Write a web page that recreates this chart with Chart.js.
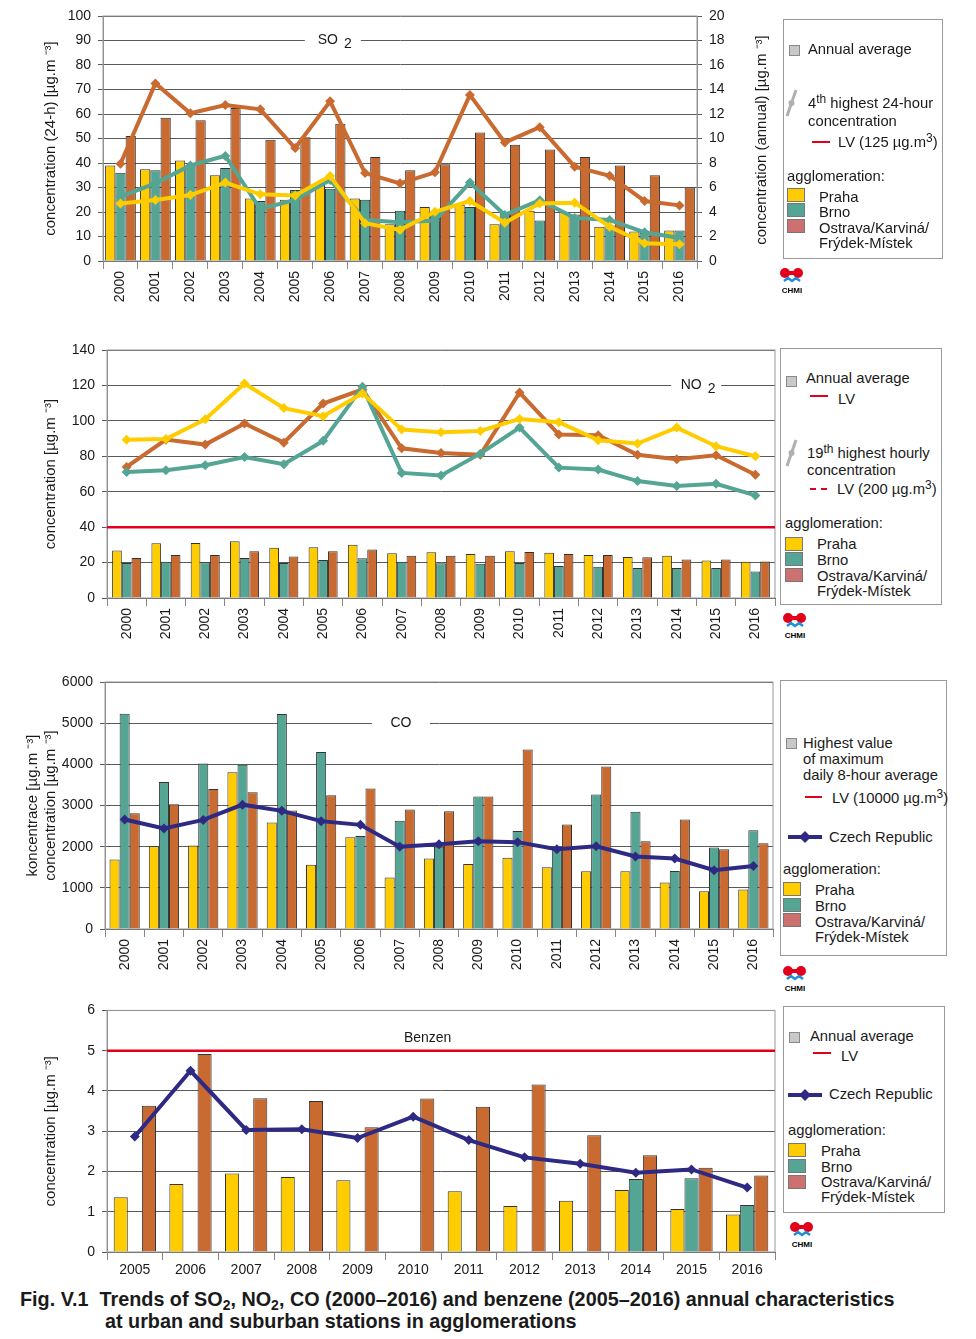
<!DOCTYPE html>
<html>
<head>
<meta charset="utf-8">
<script src="https://cdn.jsdelivr.net/npm/chart.js@4/dist/chart.umd.min.js"></script>
<style>
  body { margin: 0; background: #fff; width: 976px; height: 1339px; position: relative; overflow: hidden;
         font-family: 'Liberation Sans', Arial, sans-serif; color: #1a1a1a; }
  .cv { position: absolute; left: 0; }
  .t { position: absolute; font-size: 14.8px; line-height: 16px; white-space: nowrap; }
  .t sup { font-size: 12px; vertical-align: 5px; line-height: 0; }
  .box { position: absolute; border: 1px solid #999; }
  .sq { position: absolute; width: 9px; height: 9px; background: #c8c8c8; border: 1px solid #8a8a8a; }
  .ag { position: absolute; width: 16px; height: 12px; border: 1px solid #777; }
  .red { position: absolute; height: 2px; background: #e3001b; }
  .dash { position: absolute; height: 0; border-top: 2px dashed #e3001b; }
  .rot { position: absolute; font-size: 15px; white-space: nowrap; transform: translate(-50%, -50%) rotate(-90deg); }
  .logo { position: absolute; width: 26px; height: 28px; }
  .cap { position: absolute; font-size: 19.8px; font-weight: bold; white-space: nowrap; line-height: 22px; }
  .cap sub { font-size: 14px; vertical-align: -4px; line-height: 0; }
</style>
</head>
<body>

<canvas id="so2" class="cv" style="top:0px" width="770" height="320"></canvas>
<canvas id="no2" class="cv" style="top:330px" width="780" height="330"></canvas>
<canvas id="co" class="cv" style="top:665px" width="780" height="330"></canvas>
<canvas id="bz" class="cv" style="top:995px" width="780" height="290"></canvas>

<div class="rot" style="left:760px; top:140px">concentration (annual) [µg.m ⁻³]</div>

<!-- legend SO2 -->
<div class="box" style="left:783px; top:19px; width:158px; height:238px"></div>
<div class="sq" style="left:789px; top:45px"></div>
<div class="t" style="left:808px; top:41px">Annual average</div>
<svg style="position:absolute; left:784px; top:88px" width="16" height="30"><line x1="12" y1="2" x2="3" y2="28" stroke="#b0b0b0" stroke-width="3"/><circle cx="7.5" cy="15" r="3" fill="#b0b0b0"/></svg>
<div class="t" style="left:808px; top:95px">4<sup>th</sup> highest 24-hour</div>
<div class="t" style="left:808px; top:113px">concentration</div>
<div class="red" style="left:812px; top:141px; width:18px"></div>
<div class="t" style="left:838px; top:134px">LV (125 µg.m<sup>3</sup>)</div>
<div class="t" style="left:787px; top:168px">agglomeration:</div>
<div class="ag" style="left:787px; top:188px; background:#ffcc00"></div>
<div class="ag" style="left:787px; top:203px; background:#55a595"></div>
<div class="ag" style="left:787px; top:219px; background:#cc7070"></div>
<div class="t" style="left:819px; top:189px">Praha</div>
<div class="t" style="left:819px; top:204px">Brno</div>
<div class="t" style="left:819px; top:220px">Ostrava/Karviná/</div>
<div class="t" style="left:819px; top:235px">Frýdek-Místek</div>

<!-- legend NO2 -->
<div class="box" style="left:780px; top:348px; width:160px; height:255px"></div>
<div class="sq" style="left:786px; top:376px"></div>
<div class="t" style="left:806px; top:370px">Annual average</div>
<div class="red" style="left:810px; top:395px; width:18px"></div>
<div class="t" style="left:838px; top:391px">LV</div>
<svg style="position:absolute; left:784px; top:438px" width="16" height="30"><line x1="12" y1="2" x2="3" y2="28" stroke="#b0b0b0" stroke-width="3"/><circle cx="7.5" cy="15" r="3" fill="#b0b0b0"/></svg>
<div class="t" style="left:807px; top:445px">19<sup>th</sup> highest hourly</div>
<div class="t" style="left:807px; top:462px">concentration</div>
<div class="dash" style="left:810px; top:488px; width:17px"></div>
<div class="t" style="left:837px; top:481px">LV (200 µg.m<sup>3</sup>)</div>
<div class="t" style="left:785px; top:515px">agglomeration:</div>
<div class="ag" style="left:785px; top:537px; background:#ffcc00"></div>
<div class="ag" style="left:785px; top:552px; background:#55a595"></div>
<div class="ag" style="left:785px; top:568px; background:#cc7070"></div>
<div class="t" style="left:817px; top:536px">Praha</div>
<div class="t" style="left:817px; top:552px">Brno</div>
<div class="t" style="left:817px; top:568px">Ostrava/Karviná/</div>
<div class="t" style="left:817px; top:583px">Frýdek-Místek</div>

<!-- legend CO -->
<div class="box" style="left:780px; top:680px; width:165px; height:274px"></div>
<div class="sq" style="left:786px; top:738px"></div>
<div class="t" style="left:803px; top:735px">Highest value</div>
<div class="t" style="left:803px; top:751px">of maximum</div>
<div class="t" style="left:803px; top:767px">daily 8-hour average</div>
<div class="red" style="left:805px; top:796px; width:17px"></div>
<div class="t" style="left:832px; top:790px">LV (10000 µg.m<sup>3</sup>)</div>
<svg style="position:absolute; left:788px; top:830px" width="36" height="14"><line x1="0" y1="7" x2="34" y2="7" stroke="#2e2a84" stroke-width="4"/><polygon points="17,1 23,7 17,13 11,7" fill="#2e2a84"/></svg>
<div class="t" style="left:829px; top:829px">Czech Republic</div>
<div class="t" style="left:783px; top:861px">agglomeration:</div>
<div class="ag" style="left:783px; top:882px; background:#ffcc00"></div>
<div class="ag" style="left:783px; top:898px; background:#55a595"></div>
<div class="ag" style="left:783px; top:913px; background:#cc7070"></div>
<div class="t" style="left:815px; top:882px">Praha</div>
<div class="t" style="left:815px; top:898px">Brno</div>
<div class="t" style="left:815px; top:914px">Ostrava/Karviná/</div>
<div class="t" style="left:815px; top:929px">Frýdek-Místek</div>

<!-- legend benzene -->
<div class="box" style="left:783px; top:1006px; width:160px; height:205px"></div>
<div class="sq" style="left:789px; top:1032px"></div>
<div class="t" style="left:810px; top:1028px">Annual average</div>
<div class="red" style="left:813px; top:1052px; width:18px"></div>
<div class="t" style="left:841px; top:1048px">LV</div>
<svg style="position:absolute; left:788px; top:1088px" width="36" height="14"><line x1="0" y1="7" x2="34" y2="7" stroke="#2e2a84" stroke-width="4"/><polygon points="17,1 23,7 17,13 11,7" fill="#2e2a84"/></svg>
<div class="t" style="left:829px; top:1086px">Czech Republic</div>
<div class="t" style="left:788px; top:1122px">agglomeration:</div>
<div class="ag" style="left:788px; top:1143px; background:#ffcc00"></div>
<div class="ag" style="left:788px; top:1159px; background:#55a595"></div>
<div class="ag" style="left:788px; top:1175px; background:#cc7070"></div>
<div class="t" style="left:821px; top:1143px">Praha</div>
<div class="t" style="left:821px; top:1159px">Brno</div>
<div class="t" style="left:821px; top:1174px">Ostrava/Karviná/</div>
<div class="t" style="left:821px; top:1189px">Frýdek-Místek</div>

<!-- CHMI logos -->
<svg class="logo" style="left:779px; top:267px" viewBox="0 0 26 28"><circle cx="6" cy="6" r="5" fill="#e3001b"/><circle cx="19" cy="6" r="5" fill="#e3001b"/><rect x="10" y="4" width="5" height="4" fill="#e3001b"/><path d="M5 14 L9 11 L13 14 L17 11 L21 14" stroke="#1e8fd6" stroke-width="2.5" fill="none"/><text x="13" y="26" font-size="8" font-weight="bold" text-anchor="middle" font-family="Liberation Sans, Arial">CHMI</text></svg>
<svg class="logo" style="left:782px; top:612px" viewBox="0 0 26 28"><circle cx="6" cy="6" r="5" fill="#e3001b"/><circle cx="19" cy="6" r="5" fill="#e3001b"/><rect x="10" y="4" width="5" height="4" fill="#e3001b"/><path d="M5 14 L9 11 L13 14 L17 11 L21 14" stroke="#1e8fd6" stroke-width="2.5" fill="none"/><text x="13" y="26" font-size="8" font-weight="bold" text-anchor="middle" font-family="Liberation Sans, Arial">CHMI</text></svg>
<svg class="logo" style="left:782px; top:965px" viewBox="0 0 26 28"><circle cx="6" cy="6" r="5" fill="#e3001b"/><circle cx="19" cy="6" r="5" fill="#e3001b"/><rect x="10" y="4" width="5" height="4" fill="#e3001b"/><path d="M5 14 L9 11 L13 14 L17 11 L21 14" stroke="#1e8fd6" stroke-width="2.5" fill="none"/><text x="13" y="26" font-size="8" font-weight="bold" text-anchor="middle" font-family="Liberation Sans, Arial">CHMI</text></svg>
<svg class="logo" style="left:789px; top:1221px" viewBox="0 0 26 28"><circle cx="6" cy="6" r="5" fill="#e3001b"/><circle cx="19" cy="6" r="5" fill="#e3001b"/><rect x="10" y="4" width="5" height="4" fill="#e3001b"/><path d="M5 14 L9 11 L13 14 L17 11 L21 14" stroke="#1e8fd6" stroke-width="2.5" fill="none"/><text x="13" y="26" font-size="8" font-weight="bold" text-anchor="middle" font-family="Liberation Sans, Arial">CHMI</text></svg>

<div class="cap" style="left:20px; top:1288px">Fig. V.1&nbsp; Trends of SO<sub>2</sub>, NO<sub>2</sub>, CO (2000–2016) and benzene (2005–2016) annual characteristics</div>
<div class="cap" style="left:105px; top:1310px">at urban and suburban stations in agglomerations</div>

<script>
// years
const years = ['2000', '2001', '2002', '2003', '2004', '2005', '2006', '2007', '2008',
               '2009', '2010', '2011', '2012', '2013', '2014', '2015', '2016'];
const benzYears = ['2005', '2006', '2007', '2008', '2009', '2010', '2011', '2012',
                   '2013', '2014', '2015', '2016'];

// SO2 - annual average (right axis) and 4th highest 24-h conc. (left axis)
const so2AvgPraha   = [7.8, 7.5, 8.2, 7.0, 5.1, 5.0, 6.4, 5.1, 3.0, 4.4, 4.6, 3.0, 4.1, 4.0, 2.8, 2.4, 2.5];
const so2AvgBrno    = [7.2, 7.4, 7.8, 7.6, 4.9, 5.8, 5.9, 5.0, 4.1, 4.0, 4.4, 4.0, 3.3, 3.8, 2.9, 2.3, 2.5];
const so2AvgOstrava = [10.2, 11.7, 11.5, 12.5, 9.9, 10.1, 11.2, 8.5, 7.4, 7.9, 10.5, 9.5, 9.1, 8.5, 7.8, 7.0, 6.0];
const so2MaxPraha   = [23.5, 24.9, 26.9, 32.0, 27.2, 26.7, 34.7, 15.4, 12.7, 20.1, 24.5, 15.6, 23.5, 23.8, 14.0, 7.2, 6.8];
const so2MaxBrno    = [26.3, 31.7, 39.0, 42.9, 21.2, 24.9, 33.1, 16.7, 15.8, 16.5, 32.0, 18.8, 24.8, 17.6, 16.7, 11.7, 9.4];
const so2MaxOstrava = [39.7, 72.5, 60.3, 63.7, 61.9, 46.1, 65.2, 35.9, 31.7, 36.2, 67.8, 48.4, 54.6, 38.5, 34.8, 24.5, 22.7];

// NO2 - annual average and 19th highest hourly conc.
const no2AvgPraha   = [26.8, 30.9, 31.1, 32.1, 28.3, 28.7, 30.0, 25.3, 25.8, 24.9, 26.4, 25.5, 24.3, 23.2, 23.8, 21.1, 20.4];
const no2AvgBrno    = [19.8, 20.4, 20.2, 22.6, 19.8, 21.5, 22.5, 20.4, 19.6, 19.4, 19.8, 18.1, 17.7, 17.0, 17.0, 17.0, 14.9];
const no2AvgOstrava = [22.6, 24.3, 24.3, 26.4, 23.4, 26.4, 27.4, 23.8, 23.8, 23.8, 26.0, 24.9, 24.3, 23.0, 21.7, 21.7, 20.6];
const no2MaxPraha   = [89.4, 89.8, 100.9, 121.1, 107.2, 102.6, 115.5, 95.1, 93.6, 94.3, 101.1, 99.2, 89.1, 87.2, 96.2, 85.7, 80.0];
const no2MaxBrno    = [71.1, 72.1, 74.9, 79.6, 75.5, 88.7, 119.2, 70.6, 69.2, 81.5, 96.2, 73.6, 72.5, 66.0, 63.2, 64.5, 57.9];
const no2MaxOstrava = [74.0, 89.4, 86.6, 98.5, 87.7, 109.8, 117.7, 84.5, 81.9, 80.8, 116.0, 92.3, 91.9, 80.9, 78.3, 80.6, 69.6];
const no2LV = 40;

// CO - highest max. daily 8-h average
const coPraha   = [1690, 2010, 2030, 3810, 2590, 1560, 2230, 1250, 1710, 1580, 1730, 1500, 1400, 1400, 1130, 920, 960];
const coBrno    = [5230, 3570, 4020, 3990, 5220, 4300, 2260, 2630, 2000, 3220, 2380, 1950, 3270, 2850, 1410, 1980, 2400];
const coOstrava = [2810, 3030, 3400, 3320, 2880, 3250, 3410, 2900, 2860, 3220, 4360, 2540, 3950, 2130, 2660, 1940, 2080];
const coCR      = [2660, 2440, 2650, 3020, 2870, 2620, 2530, 2000, 2060, 2130, 2110, 1940, 2010, 1760, 1710, 1430, 1530];

// benzene - annual average
const bzPraha   = [1.36, 1.69, 1.95, 1.86, 1.78, null, 1.51, 1.14, 1.27, 1.54, 1.07, 0.93];
const bzBrno    = [null, null, null, null, null, null, null, null, null, 1.81, 1.83, 1.17];
const bzOstrava = [3.63, 4.92, 3.82, 3.75, 3.10, 3.81, 3.61, 4.16, 2.90, 2.40, 2.09, 1.90];
const bzCR      = [2.87, 4.50, 3.03, 3.05, 2.83, 3.36, 2.78, 2.35, 2.19, 1.97, 2.05, 1.60];
const bzLV = 5;

const YELLOW = '#ffcc00', TEAL = '#55a595', BROWN = '#c96a30', NAVY = '#2e2a84', RED = '#e3001b';

Chart.defaults.font.family = "'Liberation Sans', Arial, sans-serif";
Chart.defaults.font.size = 14;
Chart.defaults.color = '#1a1a1a';
Chart.defaults.animation = false;
Chart.defaults.responsive = false;
Chart.defaults.plugins.legend.display = false;
Chart.defaults.plugins.tooltip.enabled = false;

// frame, limit line and chart name on the plot
const extras = {
  id: 'extras',
  beforeDatasetsDraw(chart, args, o) {
    const { ctx, chartArea: a, scales } = chart;
    ctx.save();
    ctx.strokeStyle = '#999';
    ctx.lineWidth = 1;
    ctx.strokeRect(a.left, a.top, a.width, a.height);
    if (o.limit != null) {
      const y = scales.y.getPixelForValue(o.limit);
      ctx.strokeStyle = RED;
      ctx.lineWidth = 2.5;
      ctx.beginPath();
      ctx.moveTo(a.left, y);
      ctx.lineTo(a.right, y);
      ctx.stroke();
    }
    if (o.name) {
      const x = a.left + a.width * o.at;
      const y = scales.y.getPixelForValue(o.value);
      if (o.gap) {
        ctx.fillStyle = '#fff';
        ctx.fillRect(x - o.gap / 2, y - 4, o.gap, 8);
      }
      ctx.fillStyle = '#1a1a1a';
      ctx.font = "14px 'Liberation Sans', Arial";
      ctx.textBaseline = 'middle';
      const w = ctx.measureText(o.name).width + (o.sub ? 10 : 0);
      ctx.textAlign = 'left';
      ctx.fillText(o.name, x - w / 2, y);
      if (o.sub) ctx.fillText(o.sub, x - w / 2 + ctx.measureText(o.name).width + 6, y + 4);
    }
    ctx.restore();
  }
};

function bars(data, color, axis) {
  return { type: 'bar', data, backgroundColor: color, borderColor: '#333', borderWidth: 1,
           yAxisID: axis || 'y', order: 2, barPercentage: 1 };
}
function line(data, color, axis) {
  return { type: 'line', data, borderColor: color, backgroundColor: color, borderWidth: 4,
           pointStyle: 'rectRot', pointRadius: 5, pointBorderWidth: 0, tension: 0,
           yAxisID: axis || 'y', order: 1 };
}
function yAxis(max, step, width, title, pos) {
  return {
    position: pos || 'left', min: 0, max: max,
    ticks: { stepSize: step, padding: 7, format: { useGrouping: false } },
    grid: { color: '#5a5a5a', lineWidth: 1, tickLength: 5, drawOnChartArea: pos !== 'right' },
    border: { color: '#888' },
    title: title ? { display: true, text: title, font: { size: 15 }, padding: { top: 0, bottom: 0 } } : { display: false },
    afterFit: (s) => { s.width = width; }
  };
}
function xAxis(height, rotate) {
  return {
    grid: { drawOnChartArea: false, tickLength: 8, color: '#888', offset: true },
    border: { color: '#555' },
    ticks: { maxRotation: rotate ? 90 : 0, minRotation: rotate ? 90 : 0, padding: 2, autoSkip: false },
    afterFit: (s) => { s.height = height; }
  };
}

new Chart(document.getElementById('so2'), {
  data: {
    labels: years,
    datasets: [
      line(so2MaxPraha, YELLOW), line(so2MaxBrno, TEAL), line(so2MaxOstrava, BROWN),
      bars(so2AvgPraha, YELLOW, 'y1'), bars(so2AvgBrno, TEAL, 'y1'), bars(so2AvgOstrava, BROWN, 'y1')
    ]
  },
  options: {
    layout: { padding: { left: 42, right: 33, top: 16, bottom: 0 } },
    datasets: { bar: { categoryPercentage: 0.88 } },
    scales: {
      x: xAxis(59, true),
      y: yAxis(100, 10, 61, 'concentration (24-h) [µg.m ⁻³]'),
      y1: yAxis(20, 2, 40, null, 'right')
    },
    plugins: { extras: { name: 'SO', sub: '2', at: 0.387, value: 90, gap: 56 } }
  },
  plugins: [extras]
});

new Chart(document.getElementById('no2'), {
  data: {
    labels: years,
    datasets: [
      line(no2MaxPraha, YELLOW), line(no2MaxBrno, TEAL), line(no2MaxOstrava, BROWN),
      bars(no2AvgPraha, YELLOW), bars(no2AvgBrno, TEAL), bars(no2AvgOstrava, BROWN)
    ]
  },
  options: {
    layout: { padding: { left: 42, right: 4, top: 20, bottom: 0 } },
    datasets: { bar: { categoryPercentage: 0.74 } },
    scales: {
      x: xAxis(62, true),
      y: yAxis(140, 20, 65, 'concentration [µg.m ⁻³]')
    },
    plugins: { extras: { limit: no2LV, name: 'NO', sub: '2', at: 0.882, value: 120, gap: 50 } }
  },
  plugins: [extras]
});

new Chart(document.getElementById('co'), {
  data: {
    labels: years,
    datasets: [
      line(coCR, NAVY),
      bars(coPraha, YELLOW), bars(coBrno, TEAL), bars(coOstrava, BROWN)
    ]
  },
  options: {
    layout: { padding: { left: 24, right: 7, top: 17, bottom: 0 } },
    datasets: { bar: { categoryPercentage: 0.77 } },
    scales: {
      x: xAxis(66, true),
      y: yAxis(6000, 1000, 81, ['koncentrace [µg.m ⁻³]', 'concentration [µg.m ⁻³]'])
    },
    plugins: { extras: { name: 'CO', at: 0.443, value: 5000, gap: 58 } }
  },
  plugins: [extras]
});

new Chart(document.getElementById('bz'), {
  data: {
    labels: benzYears,
    datasets: [
      line(bzCR, NAVY),
      bars(bzPraha, YELLOW), bars(bzBrno, TEAL), bars(bzOstrava, BROWN)
    ]
  },
  options: {
    layout: { padding: { left: 42, right: 4, top: 11, bottom: 0 } },
    datasets: { bar: { categoryPercentage: 0.76 } },
    scales: {
      x: xAxis(33, false),
      y: yAxis(6, 1, 65, 'concentration [µg.m ⁻³]')
    },
    plugins: { extras: { limit: bzLV, name: 'Benzen', at: 0.48, value: 5.3 } }
  },
  plugins: [extras]
});
</script>
</body>
</html>
